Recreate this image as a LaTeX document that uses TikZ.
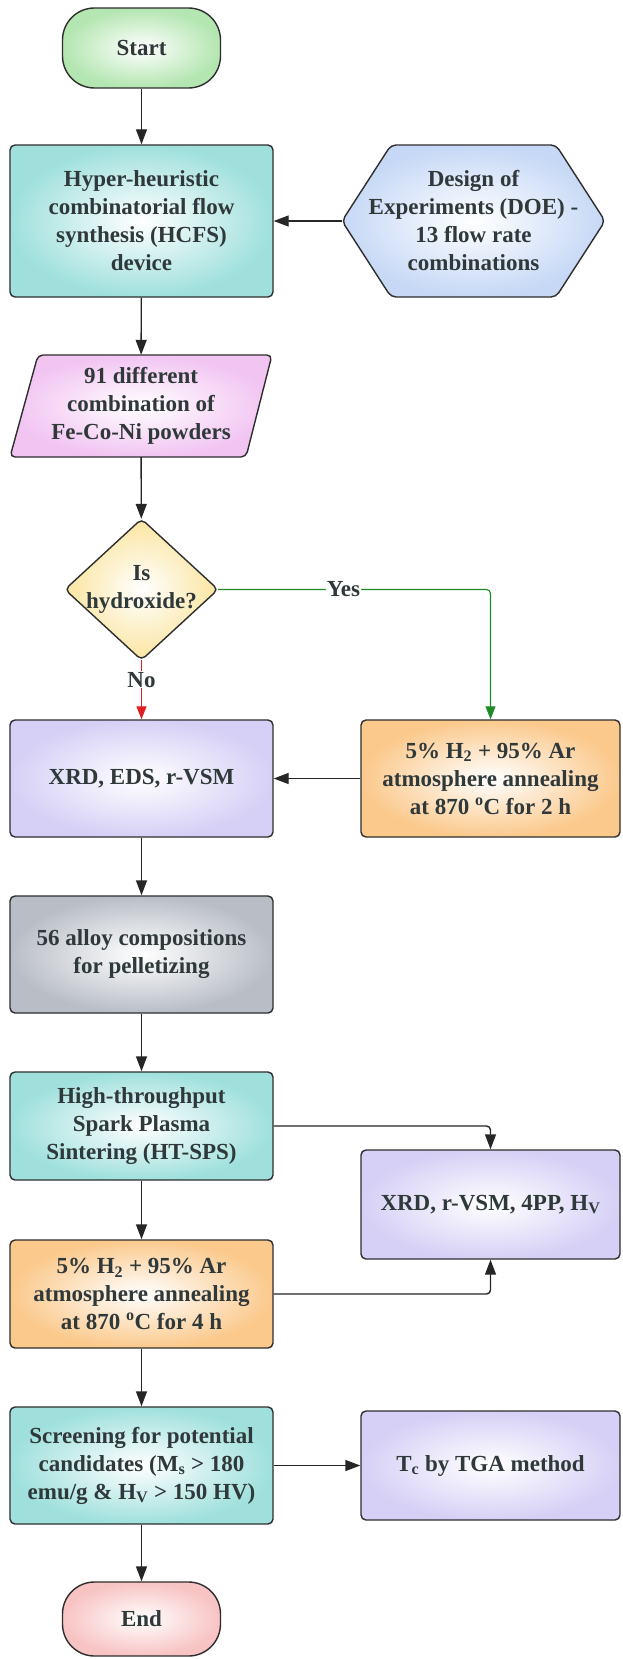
\documentclass[tikz,border=0pt]{standalone}
\usepackage{fontspec}
\setmainfont{Liberation Serif}
\usetikzlibrary{arrows.meta}
\definecolor{bordc}{HTML}{2E2E2E}
\definecolor{txtc}{HTML}{30393A}
\definecolor{startc}{HTML}{B3E6B0}
\definecolor{tealc}{HTML}{9FE0DD}
\definecolor{doec}{HTML}{C6D8F6}
\definecolor{pinkc}{HTML}{F2C4F2}
\definecolor{yellc}{HTML}{FBE5A0}
\definecolor{lavc}{HTML}{D6D0F6}
\definecolor{orac}{HTML}{FBC98C}
\definecolor{grayc}{HTML}{B9BEC6}
\definecolor{endc}{HTML}{F8C3C3}
\definecolor{greenc}{HTML}{1E8A2A}
\definecolor{redc}{HTML}{E02020}
\begin{document}
\begin{tikzpicture}[x=1pt,y=-1pt,
  txt/.style={align=center, font=\fontsize{23}{28}\selectfont\bfseries, text=txtc, inner sep=0pt},
  box/.style={txt, draw=bordc, line width=1.4pt, rounded corners=5pt, shade, shading=radial, inner color=white},
  shp/.style={draw=bordc, line width=1.4pt, rounded corners=5pt, shade, shading=radial, inner color=white},
  lcol/.style={minimum width=263pt},
  rcol/.style={minimum width=259pt},
  arr/.style={draw=black!85, line width=1.4pt, -{Triangle[length=15pt,width=11pt]}},
  carr/.style={line width=1.1pt, -{Triangle[length=13pt,width=10pt]}},
  lbl/.style={txt, fill=white, inner sep=1pt}]
\fill[white] (0,0) rectangle (622,1659);
\useasboundingbox (0,0) rectangle (622,1659);

% shapes drawn as paths
\path[shp, outer color=doec] (342,221) -- (391,145) -- (556,145) -- (605,221) -- (556,297) -- (391,297) -- cycle;
\path[shp, outer color=pinkc] (38,355) -- (272,355) -- (246,457) -- (10,457) -- cycle;
\path[shp, outer color=yellc] (141.5,519) -- (218,589.5) -- (141.5,660) -- (65,589.5) -- cycle;

\node[box, outer color=startc, minimum width=158pt, minimum height=80pt, rounded corners=32pt] (start) at (141.5,48) {Start};
\node[box, lcol, outer color=tealc, minimum height=152pt] (hcfs) at (141.5,221) {Hyper-heuristic\\combinatorial flow\\synthesis (HCFS)\\device};
\node[txt, minimum width=263pt, minimum height=152pt] (doe) at (473.5,221) {Design of\\Experiments (DOE) -\\13 flow rate\\combinations};
\node[txt, minimum width=262pt, minimum height=102pt] (para) at (141,406) {91 different\\combination of\\Fe-Co-Ni powders};
\node[txt, minimum width=153pt, minimum height=141pt] (dia) at (141.5,589.5) {Is\\hydroxide?};
\node[box, lcol, outer color=lavc, minimum height=117pt] (xrd1) at (141.5,778.5) {XRD, EDS, r-VSM};
\node[box, rcol, outer color=orac, minimum height=117pt] (ann1) at (490.5,778.5) {5\% H\textsubscript{2} + 95\% Ar\\atmosphere annealing\\at 870 \textsuperscript{o}C for 2 h};
\node[box, lcol, outer color=grayc, minimum height=117pt] (gray) at (141.5,954.5) {56 alloy compositions\\for pelletizing};
\node[box, lcol, outer color=tealc, minimum height=108pt] (htsps) at (141.5,1126) {High-throughput\\Spark Plasma\\Sintering (HT-SPS)};
\node[box, rcol, outer color=lavc, minimum height=109pt] (xrd2) at (490.5,1204.5) {XRD, r-VSM, 4PP, H\textsubscript{V}};
\node[box, lcol, outer color=orac, minimum height=108pt] (ann2) at (141.5,1294) {5\% H\textsubscript{2} + 95\% Ar\\atmosphere annealing\\at 870 \textsuperscript{o}C for 4 h};
\node[box, lcol, outer color=tealc, minimum height=117pt] (screen) at (141.5,1465.5) {Screening for potential\\candidates (M\textsubscript{s} > 180\\emu/g \& H\textsubscript{V} > 150 HV)};
\node[box, rcol, outer color=lavc, minimum height=109pt] (tc) at (490.5,1465.5) {T\textsubscript{c} by TGA method};
\node[box, outer color=endc, minimum width=158pt, minimum height=74pt, rounded corners=32pt] (end) at (141.5,1619) {End};

% connectors
\draw[arr] (start) -- (hcfs);
\draw[arr] (doe.west) -- (hcfs.east);
\draw[arr] (hcfs) -- (para);
\draw[arr] (para) -- (dia);
\draw[carr, draw=greenc, rounded corners=4pt] (dia.east) -- node[lbl, pos=0.46]{Yes} (dia.east -| ann1.north) -- (ann1.north);
\draw[carr, draw=redc] (dia.south) -- node[lbl, pos=0.33]{No} (xrd1.north);
\draw[arr] (ann1.west) -- (xrd1.east);
\draw[arr] (xrd1) -- (gray);
\draw[arr] (gray) -- (htsps);
\draw[arr, rounded corners=4pt] (htsps.east) -| (xrd2.north);
\draw[arr] (htsps) -- (ann2);
\draw[arr, rounded corners=4pt] (ann2.east) -| (xrd2.south);
\draw[arr] (ann2) -- (screen);
\draw[arr] (screen.east) -- (tc.west);
\draw[arr] (screen) -- (end);
\end{tikzpicture}
\end{document}
